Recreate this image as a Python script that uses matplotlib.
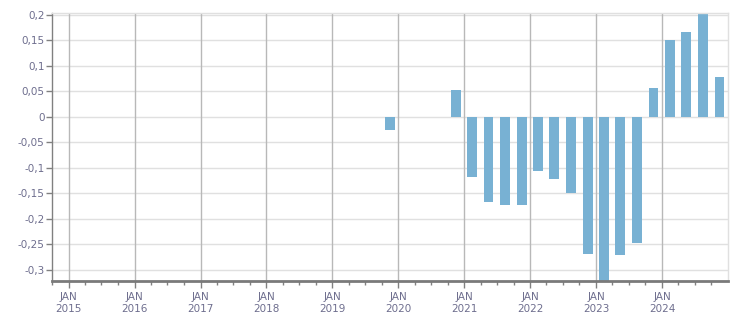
import matplotlib
matplotlib.use("Agg")
import matplotlib.pyplot as plt
import matplotlib.dates as mdates
from matplotlib.ticker import FixedLocator, FuncFormatter
import datetime as dt

# Data: quarterly values (bar centred mid-quarter)
periods = ["2019-11-15", "2020-11-15",
           "2021-02-15", "2021-05-15", "2021-08-15", "2021-11-15",
           "2022-02-15", "2022-05-15", "2022-08-15", "2022-11-15",
           "2023-02-15", "2023-05-15", "2023-08-15", "2023-11-15",
           "2024-02-15", "2024-05-15", "2024-08-15", "2024-11-15"]
values = [-0.025, 0.053,
          -0.118, -0.167, -0.172, -0.172,
          -0.106, -0.121, -0.150, -0.268,
          -0.335, -0.270, -0.247, 0.057,
          0.151, 0.166, 0.202, 0.078]
years = list(range(2015, 2025))
y_ticks = [0.2, 0.15, 0.1, 0.05, 0, -0.05, -0.1, -0.15, -0.2, -0.25, -0.3]

dates = [dt.datetime.strptime(p, "%Y-%m-%d") for p in periods]
x = mdates.date2num(dates)

fig = plt.figure(figsize=(7.51, 3.13), dpi=100)
ax = fig.add_axes([0.0686, 0.1022, 0.9008, 0.8548])

ax.bar(x, values, width=55, color="#78b1d3", zorder=3)

ax.set_xlim(mdates.date2num(dt.datetime(2014, 9, 28)), mdates.date2num(dt.datetime(2025, 1, 1)))
ax.set_ylim(-0.3216, 0.203)

# grid
for yv in y_ticks:
    ax.axhline(yv, color="#e0e0e0", lw=1, zorder=1)
major = [mdates.date2num(dt.datetime(y, 1, 1)) for y in years]
for xv in major:
    ax.axvline(xv, color="#b8b8b8", lw=1, zorder=1)

ax.xaxis.set_major_locator(FixedLocator(major))
minor = [mdates.date2num(dt.datetime(y, m, 1)) for y in range(2014, 2025) for m in (4, 7, 10)]
ax.xaxis.set_minor_locator(FixedLocator(minor))
ax.set_xticklabels([f"JAN\n{y}" for y in years])

ax.yaxis.set_major_locator(FixedLocator(y_ticks))
ax.yaxis.set_major_formatter(FuncFormatter(lambda v, p: ("%g" % v).replace(".", ",")))

lblc = "#6e6e8e"
ax.tick_params(axis="y", length=4, width=1, color="#808080", labelsize=7.5, labelcolor=lblc, pad=1)
ax.tick_params(axis="x", which="major", length=5, width=1, color="#808080", labelsize=7.5, labelcolor=lblc, pad=3)
ax.tick_params(axis="x", which="minor", length=3, width=1, color="#808080")
for lab in ax.get_xticklabels():
    lab.set_linespacing(1.25)

for s in ["top", "right"]:
    ax.spines[s].set_color("#e0e0e0")
    ax.spines[s].set_linewidth(1)
ax.spines["left"].set_color("#808080")
ax.spines["left"].set_linewidth(1)
ax.spines["bottom"].set_color("#7a7a7a")
ax.spines["bottom"].set_linewidth(2)
for s in ax.spines.values():
    s.set_zorder(4)

fig.savefig("out.png", dpi=100)
